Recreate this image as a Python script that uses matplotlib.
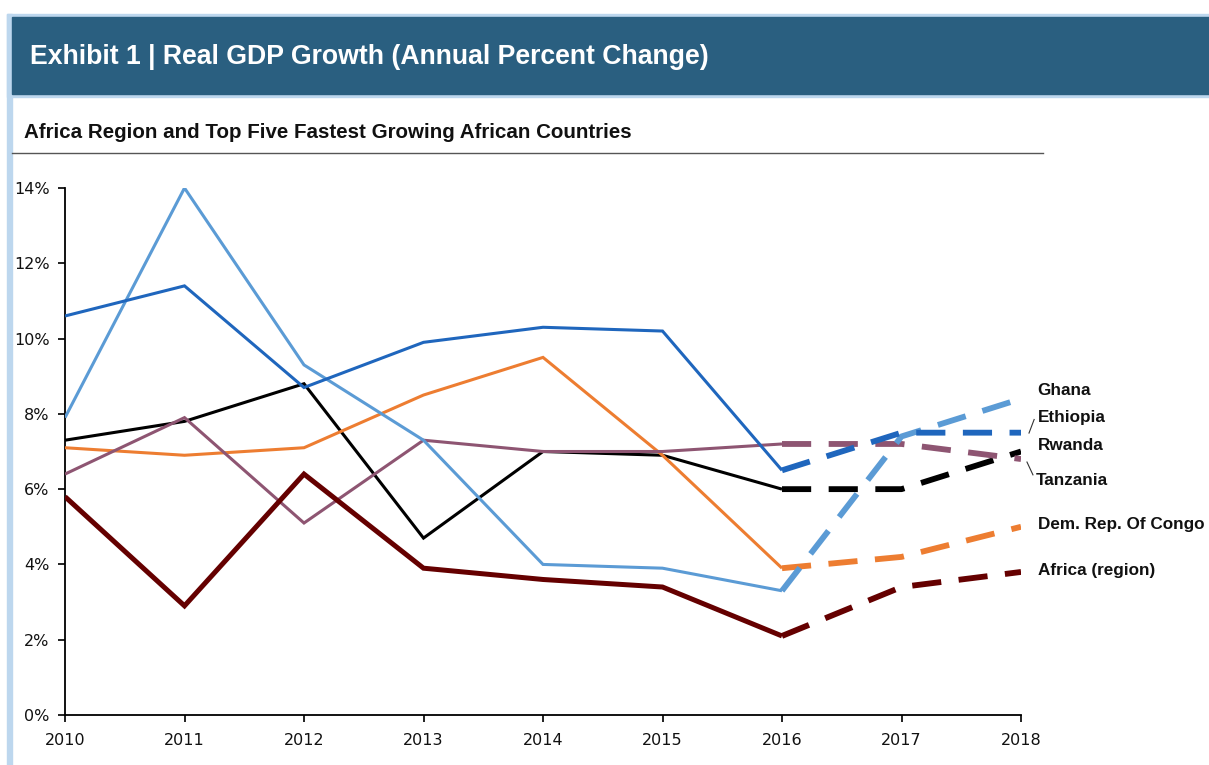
# -*- coding: utf-8 -*-
import numpy as np
import matplotlib.pyplot as plt
from matplotlib.patches import Rectangle
from matplotlib.lines import Line2D

# data (values in percent)
years = [2010, 2011, 2012, 2013, 2014, 2015, 2016, 2017, 2018]
ghana = [7.9, 14.0, 9.3, 7.3, 4.0, 3.9, 3.3, 7.4, 8.4]
ethiopia = [10.6, 11.4, 8.7, 9.9, 10.3, 10.2, 6.5, 7.5, 7.5]
rwanda = [6.4, 7.9, 5.1, 7.3, 7.0, 7.0, 7.2, 7.2, 6.8]
tanzania = [7.3, 7.8, 8.8, 4.7, 7.0, 6.9, 6.0, 6.0, 7.0]
congo = [7.1, 6.9, 7.1, 8.5, 9.5, 6.9, 3.9, 4.2, 5.0]
africa = [5.8, 2.9, 6.4, 3.9, 3.6, 3.4, 2.1, 3.4, 3.8]
yticks = [0, 2, 4, 6, 8, 10, 12, 14]
split_year = 2016  # forecasts after this

series = [
  # name, values, colour, solid width
  ('Tanzania', tanzania, '#000000', 2.2),
  ('Dem. Rep. Of Congo', congo, '#ED7D31', 2.2),
  ('Rwanda', rwanda, '#8E5572', 2.2),
  ('Ghana', ghana, '#5B9BD5', 2.2),
  ('Ethiopia', ethiopia, '#1F66BD', 2.2),
  ('Africa (region)', africa, '#650000', 3.6),
]

W, H = 1209, 765
fig = plt.figure(figsize=(W / 100, H / 100), dpi=100)

# header band and frame
fig.patches.append(Rectangle((7 / W, 0), 5 / W, 1 - 14 / H, transform=fig.transFigure,
                             color='#BDD7EE', zorder=0))
fig.patches.append(Rectangle((7 / W, 1 - 97 / H), 1, 83 / H, transform=fig.transFigure,
                             color='#BDD7EE', zorder=0))
fig.patches.append(Rectangle((12 / W, 1 - 94 / H), 1, 77 / H, transform=fig.transFigure,
                             color='#2A5F80', zorder=1))
fig.text(30 / W, 1 - 57 / H, 'Exhibit 1 | Real GDP Growth (Annual Percent Change)',
         color='white', fontsize=19.2, fontweight='bold', family='Liberation Sans',
         va='center', ha='left')
fig.text(24 / W, 1 - 132 / H, 'Africa Region and Top Five Fastest Growing African Countries',
         color='#111111', fontsize=14.8, fontweight='bold', family='Liberation Sans',
         va='center', ha='left')
fig.lines.append(Line2D([12 / W, 1043 / W], [1 - 153 / H, 1 - 153 / H],
                        transform=fig.transFigure, color='#555555', lw=1.0))

ax = fig.add_axes([65 / W, 1 - 715 / H, (1021 - 65) / W, (715 - 188) / H])
yrs = np.array(years)
cut = years.index(split_year)
for name, vals, col, lw in series:
  v = np.array(vals)
  ax.plot(yrs[:cut + 1], v[:cut + 1], color=col, lw=lw, solid_joinstyle='miter',
          solid_capstyle='butt', zorder=3)
  ax.plot(yrs[cut:], v[cut:], color=col, lw=4.2, dashes=(5, 3),
          dash_capstyle='butt', zorder=3)

ax.set_xlim(years[0], years[-1])
ax.set_ylim(0, 14)
ax.set_xticks(years)
ax.set_yticks(yticks)
ax.set_yticklabels(['%d%%' % t for t in yticks])
ax.spines['top'].set_visible(False)
ax.spines['right'].set_visible(False)
for s in ['left', 'bottom']:
  ax.spines[s].set_linewidth(1.3)
ax.tick_params(direction='out', length=5, width=1.3, labelsize=11.5, colors='#111111')
ax.tick_params(axis='x', pad=8)
ax.tick_params(axis='y', pad=6)
for lbl in ax.get_xticklabels() + ax.get_yticklabels():
  lbl.set_family('DejaVu Sans')
ax.patch.set_alpha(0)

# end labels (data coords)
labels = [
  ('Ghana', 2018.14, 8.63),
  ('Ethiopia', 2018.14, 7.89),
  ('Rwanda', 2018.14, 7.15),
  ('Tanzania', 2018.12, 6.24),
  ('Dem. Rep. Of Congo', 2018.14, 5.05),
  ('Africa (region)', 2018.14, 3.83),
]
for txt, x, y in labels:
  ax.text(x, y, txt, fontsize=12.3, fontweight='bold', family='Liberation Sans',
          va='center', ha='left', clip_on=False, color='#111111')
# leader lines
ax.plot([2018.067, 2018.11], [7.49, 7.85], color='#333333', lw=0.8, clip_on=False)
ax.plot([2018.05, 2018.10], [6.72, 6.38], color='#333333', lw=0.8, clip_on=False)

fig.savefig('out.png', dpi=100)
